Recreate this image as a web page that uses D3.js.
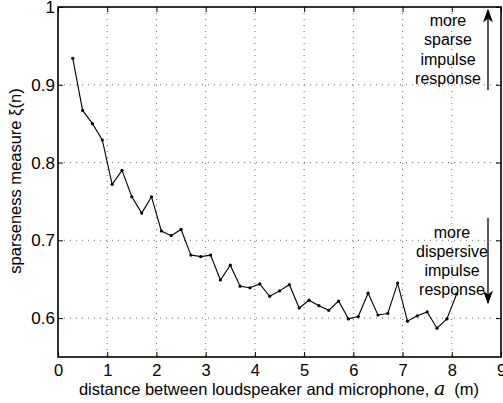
<!DOCTYPE html>
<html>
<head>
<meta charset="utf-8">
<script src="https://cdn.jsdelivr.net/npm/d3@7"></script>
<style>
body{margin:0;background:#fff}
text{font-family:"Liberation Sans",Arial,sans-serif;fill:#000}
</style>
</head>
<body>
<svg id="chart" width="503" height="403"></svg>
<script>
// distance a (m) and sparseness values
var distance = [0.3,0.5,0.7,0.9,1.1,1.3,1.5,1.7,1.9,2.1,2.3,2.5,2.7,2.9,3.1,3.3,3.5,3.7,3.9,4.1,
    4.3,4.5,4.7,4.9,5.1,5.3,5.5,5.7,5.9,6.1,6.3,6.5,6.7,6.9,7.1,7.3,7.5,7.7,7.9,8.1]
var sparseness = [0.934,0.867,0.850,0.829,0.772,0.790,0.756,0.735,0.756,0.712,0.706,0.714,0.681,0.679,0.681,0.649,0.668,0.641,0.639,0.644,
    0.628,0.635,0.643,0.613,0.623,0.616,0.610,0.622,0.599,0.602,0.632,0.604,0.606,0.645,0.596,0.603,0.608,0.587,0.599,0.631]
var xTicks = [0,1,2,3,4,5,6,7,8,9]
var yTicks = [0.6,0.7,0.8,0.9,1]
var upLabel = ["more","sparse","impulse","response"]
var downLabel = ["more","dispersive","impulse","response"]

var svg = d3.select("#chart")
var pLeft = 58, pRight = 501, pTop = 7, pBottom = 357

var xScale = d3.scaleLinear().domain([0,9]).range([pLeft,pRight])
var yScale = d3.scaleLinear().domain([0.55,1]).range([pBottom,pTop])

// dotted grid
svg.selectAll(".vgrid").data(xTicks.slice(1,-1)).enter().append("line")
    .attr("x1",function(d){return xScale(d)}).attr("x2",function(d){return xScale(d)})
    .attr("y1",pTop).attr("y2",pBottom)
    .attr("stroke","#444").attr("stroke-width",0.8).attr("stroke-dasharray","1,5")
svg.selectAll(".hgrid").data(yTicks.slice(0,-1)).enter().append("line")
    .attr("y1",function(d){return yScale(d)}).attr("y2",function(d){return yScale(d)})
    .attr("x1",pLeft).attr("x2",pRight)
    .attr("stroke","#444").attr("stroke-width",0.8).attr("stroke-dasharray","1,5")

// axes
var xAxis = d3.axisBottom(xScale).tickValues(xTicks).tickSize(-5).tickPadding(7).tickFormat(d3.format("d"))
var yAxis = d3.axisLeft(yScale).tickValues(yTicks).tickSize(-5).tickPadding(3).tickFormat(function(d){return d==1?"1":d3.format(".1f")(d)})
svg.append("g").attr("class","xax").attr("transform","translate(0,"+pBottom+")").call(xAxis)
svg.append("g").attr("transform","translate("+pLeft+",0)").call(yAxis)
// top and right ticks
svg.append("g").attr("transform","translate(0,"+pTop+")").call(d3.axisTop(xScale).tickValues(xTicks).tickSize(-5).tickFormat(""))
svg.append("g").attr("transform","translate("+pRight+",0)").call(d3.axisRight(yScale).tickValues(yTicks).tickSize(-5).tickFormat(""))
svg.selectAll(".domain").remove()
svg.selectAll("g").attr("font-family",null)
svg.selectAll(".tick line").attr("stroke","#000")
svg.selectAll(".tick text").attr("font-size",17)
svg.selectAll(".xax .tick text").attr("font-size",16.5)

svg.append("rect").attr("x",pLeft).attr("y",pTop).attr("width",pRight-pLeft).attr("height",pBottom-pTop)
    .attr("fill","none").attr("stroke","#000").attr("stroke-width",1.6)

// data line + markers
var line = d3.line().x(function(d,i){return xScale(distance[i])}).y(function(d){return yScale(d)})
svg.append("path").datum(sparseness).attr("d",line).attr("fill","none").attr("stroke","#000").attr("stroke-width",1.1)
svg.selectAll(".pt").data(sparseness).enter().append("circle")
    .attr("cx",function(d,i){return xScale(distance[i])}).attr("cy",function(d){return yScale(d)})
    .attr("r",1.6).attr("fill","#000")

// axis titles
var xt = svg.append("text").attr("x",279).attr("y",395).attr("text-anchor","middle").attr("font-size",16.5)
xt.append("tspan").text("distance between loudspeaker and microphone, ")
xt.append("tspan").text("a").attr("font-family","DejaVu Serif, serif").attr("font-style","italic").attr("font-size",19)
xt.append("tspan").text("\u00a0 (m)")
svg.append("text").attr("transform","translate(21,181) rotate(-90)").attr("text-anchor","middle")
    .attr("font-size",16.5).text("sparseness measure \u03be(n)")

// annotations
svg.selectAll(".up").data(upLabel).enter().append("text")
    .attr("x",448).attr("y",function(d,i){return 26+i*19.3}).attr("text-anchor","middle").attr("font-size",16).text(function(d){return d})
svg.selectAll(".down").data(downLabel).enter().append("text")
    .attr("x",452).attr("y",function(d,i){return 238+i*19}).attr("text-anchor","middle").attr("font-size",16).text(function(d){return d})

var defs = svg.append("defs")
defs.append("marker").attr("id","head").attr("viewBox","0 0 10 10").attr("refX",9).attr("refY",5)
    .attr("markerWidth",14).attr("markerHeight",10).attr("markerUnits","userSpaceOnUse").attr("orient","auto")
    .attr("preserveAspectRatio","none")
    .append("path").attr("d","M0,0 L10,5 L0,10 L3,5 Z").attr("fill","#000")
svg.append("line").attr("x1",488).attr("x2",488).attr("y1",90).attr("y2",10)
    .attr("stroke","#000").attr("stroke-width",1.3).attr("marker-end","url(#head)")
svg.append("line").attr("x1",488).attr("x2",488).attr("y1",218).attr("y2",303)
    .attr("stroke","#000").attr("stroke-width",1.3).attr("marker-end","url(#head)")
</script>
</body>
</html>
